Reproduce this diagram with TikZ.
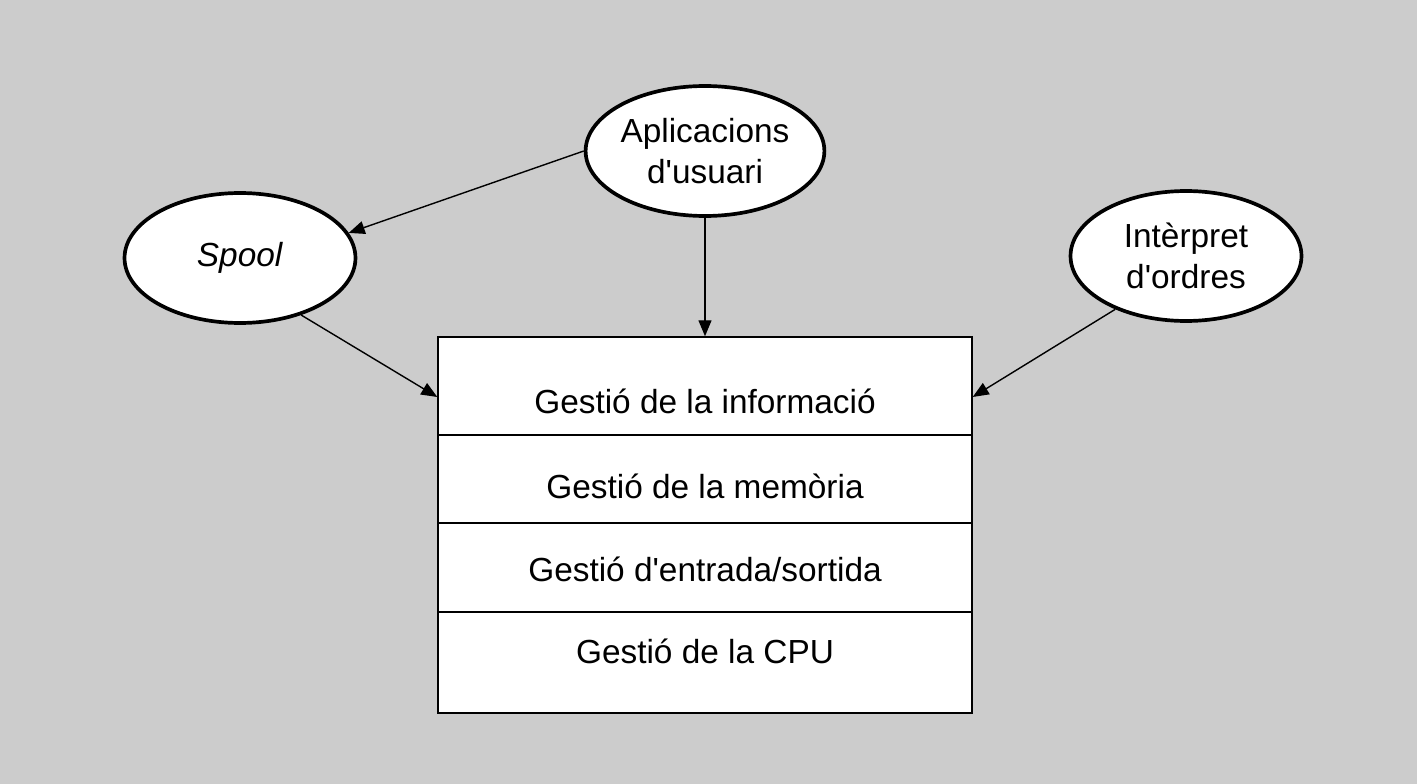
\documentclass[tikz,border=0pt]{standalone}
\usepackage{fontspec}
\setmainfont{Liberation Sans}
\usepackage{tikz}
\usetikzlibrary{arrows.meta,calc,shapes.geometric}
\definecolor{fonsgris}{HTML}{CCCCCC}

\begin{document}
\begin{tikzpicture}[
  x=0.02cm,y=-0.02cm,
  font=\fontsize{19}{23}\selectfont,
  prog/.style={draw,ellipse,line width=2.1pt,fill=white,align=center,minimum width=4.62cm,minimum height=2.6cm,inner sep=0pt},
  capa/.style={draw,rectangle,line width=0.85pt,fill=white,minimum width=10.68cm,inner sep=0pt},
  rotul/.style={anchor=base,inner sep=0pt},
  arrow/.style={-{Triangle[length=3.2mm,width=2.6mm]},line width=0.8pt}
]
\fill[fonsgris] (0,0) rectangle (1417,784);
\useasboundingbox (0,0) rectangle (1417,784);
\node[capa,minimum height=1.96cm] (info) at (705,386) {};
\node[capa,minimum height=1.76cm] (mem) at (705,479) {};
\node[capa,minimum height=1.78cm] (es) at (705,567.5) {};
\node[capa,minimum height=2.02cm] (cpu) at (705,662.5) {};
\node[rotul] (tinfo) at (705,413) {Gestió de la informació};
\node[rotul] (tmem) at (705,498) {Gestió de la memòria};
\node[rotul] (tes) at (705,581) {Gestió d\textquotesingle entrada/sortida};
\node[rotul] (tcpu) at (705,663) {Gestió de la CPU};
\node[prog] (apl) at (705,151) {Aplicacions\\d\textquotesingle usuari};
\node[prog] (spool) at (240,258) {\textit{Spool}};
\node[prog] (interp) at (1186,256) {Intèrpret\\d\textquotesingle ordres};
\draw[arrow] (apl.west) -- (spool.13);
\draw[arrow] (apl.south) -- (info.north);
\draw[arrow] (spool.-43) -- ($(info.west)+(0,11)$);
\draw[arrow] (interp.-143) -- ($(info.east)+(0,11)$);
\end{tikzpicture}
\end{document}
